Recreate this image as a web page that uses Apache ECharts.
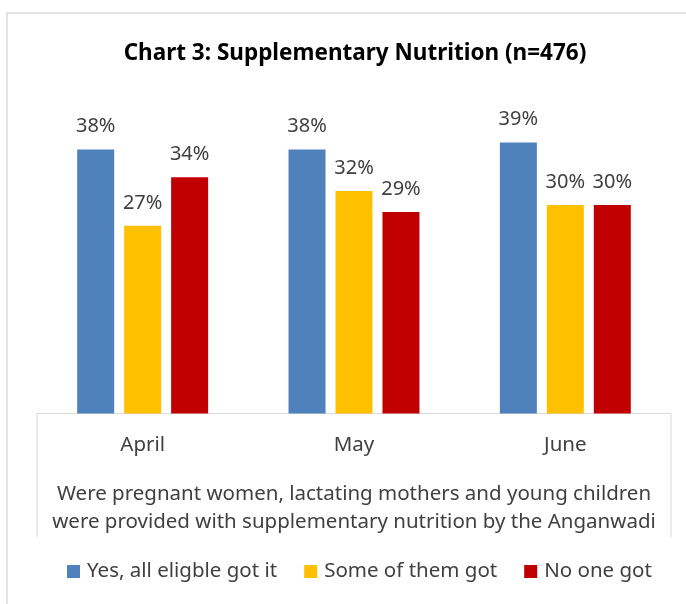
<!DOCTYPE html>
<html>
<head>
<meta charset="utf-8">
<script src="https://cdn.jsdelivr.net/npm/echarts@6/dist/echarts.min.js"></script>
<style>
html, body { margin: 0; padding: 0; background: #fff; }
#main { width: 686px; height: 604px; }
</style>
</head>
<body>
<div id="main"></div>
<script>
var months = ['April', 'May', 'June'];
var yesAll = [38, 38, 39];
var someGot = [27, 32, 30];
var noOne = [34, 29, 30];
var seriesNames = ['Yes, all eligble got it', 'Some of them got', 'No one got'];

var chartDom = document.getElementById('main');
var myChart = echarts.init(chartDom);
var font = 'Noto Sans';
var grey = '#404040';

function bar(name, data, color) {
    return {
        name: name,
        type: 'bar',
        data: data,
        barWidth: '17.5%',
        barGap: '27%',
        itemStyle: { color: color },
        label: {
            show: true,
            position: 'top',
            distance: 13,
            formatter: '{c}%',
            fontFamily: font,
            fontSize: 20,
            color: grey
        }
    };
}

var option = {
    animation: false,
    title: {
        text: 'Chart 3: Supplementary Nutrition (n=476)',
        left: 350,
        top: 37,
        textAlign: 'center',
        textStyle: { fontFamily: font, fontWeight: 'bold', fontSize: 22.5, color: '#000' }
    },
    grid: { left: 37, right: 15, top: 135.5, height: 278 },
    xAxis: {
        type: 'category',
        data: months,
        axisLine: { lineStyle: { color: '#d9d9d9', width: 1 } },
        axisTick: { show: false },
        axisLabel: { fontFamily: font, fontSize: 20.5, color: grey, margin: 21 },
        name: 'Were pregnant women, lactating mothers and young children\nwere provided with supplementary nutrition by the Anganwadi',
        nameLocation: 'middle',
        nameGap: 67,
        nameTextStyle: { fontFamily: font, fontSize: 20.5, color: grey, lineHeight: 28 }
    },
    yAxis: { type: 'value', min: 0, max: 40, show: false },
    legend: {
        bottom: 17,
        left: 62,
        itemWidth: 13,
        itemHeight: 13,
        itemGap: 27,
        icon: 'rect',
        textStyle: { fontFamily: font, fontSize: 20.5, color: grey, padding: [0, 0, 0, 2] }
    },
    graphic: [
        { type: 'rect', shape: { x: 7, y: 13, width: 700, height: 620 }, style: { fill: 'none', stroke: '#d9d9d9', lineWidth: 1.5 } },
        { type: 'line', shape: { x1: 37, y1: 414, x2: 37, y2: 537 }, style: { stroke: '#d9d9d9', lineWidth: 1 } },
        { type: 'line', shape: { x1: 671, y1: 414, x2: 671, y2: 537 }, style: { stroke: '#d9d9d9', lineWidth: 1 } }
    ],
    series: [
        bar(seriesNames[0], yesAll, '#4f81bd'),
        bar(seriesNames[1], someGot, '#ffc000'),
        bar(seriesNames[2], noOne, '#c00000')
    ]
};

option && myChart.setOption(option);
</script>
</body>
</html>
